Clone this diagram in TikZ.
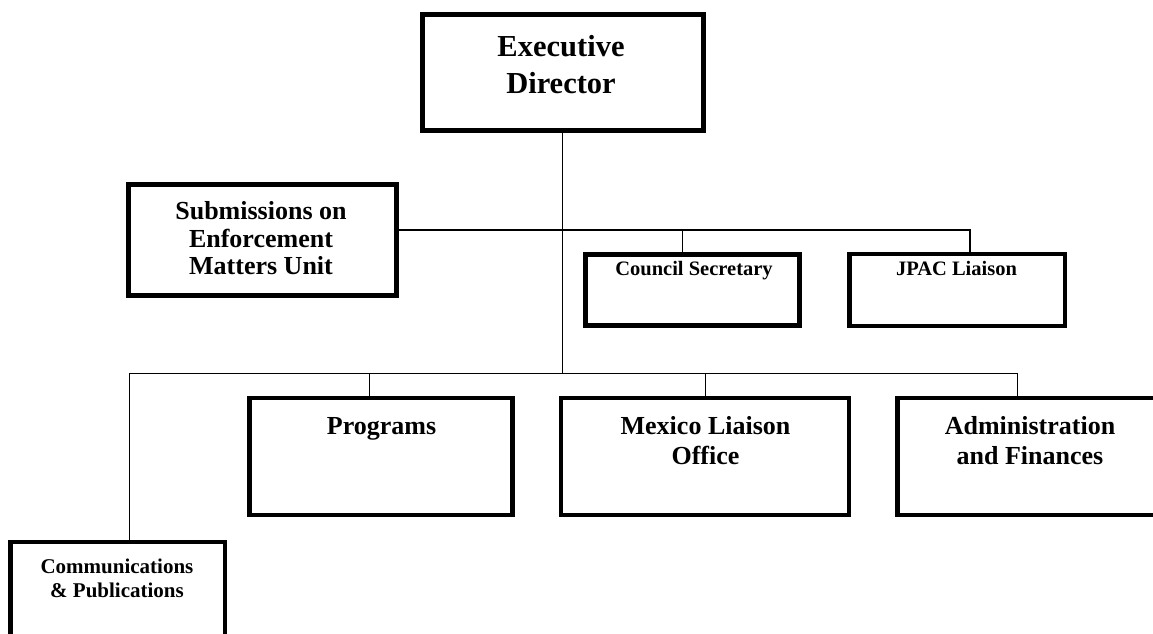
\documentclass[tikz,border=0pt]{standalone}
\usepackage{fontspec}
\setmainfont{Liberation Serif}
\begin{document}
\begin{tikzpicture}[x=1pt,y=-1pt,
  box/.style={draw, rectangle, line width=4.5pt, inner sep=0pt},
  edbox/.style={box, line width=5pt},
  link/.style={line width=1.4pt},
  lbl/.style={anchor=base, inner sep=0pt, font=\bfseries\fontsize{#1}{#1}\selectfont}]
\useasboundingbox (0,0) rectangle (1153,633);
\clip (0,0) rectangle (1153,633);

% boxes
\node[edbox, minimum width=281pt, minimum height=116pt] (ed) at (562.5,72.5) {};
\node[box, minimum width=268pt, minimum height=111pt] (sem) at (262.5,240) {};
\node[box, minimum width=214pt, minimum height=71pt] (cs) at (692.5,290) {};
\node[box, minimum width=215.5pt, minimum height=72pt] (jpac) at (957.25,290) {};
\node[box, minimum width=263pt, minimum height=117pt] (prog) at (381,456.5) {};
\node[box, minimum width=288pt, minimum height=117pt] (mex) at (705,456.5) {};
\node[box, minimum width=264.5pt, minimum height=117pt] (admin) at (1029.75,456.5) {};
\node[box, minimum width=214.5pt, minimum height=118pt] (comms) at (117.75,601) {};

% junctions
\coordinate (jCS) at (682.7,230);
\coordinate (jJP) at (970,230);
\coordinate (busL) at (129.3,373.3);
\coordinate (busR) at (1017.3,373.3);
\coordinate (jPr) at (369.3,373.3);
\coordinate (jMx) at (705.7,373.3);

% connectors
\draw[link] (ed.south) -- (ed.south |- busL);
\draw[link] (sem.east |- jJP) -- (jJP) -- (jJP |- jpac.north);
\draw[link] (jCS) -- (jCS |- cs.north);
\draw[link] (busL |- comms.north) -- (busL) -- (busR) -- (busR |- admin.north);
\draw[link] (jPr) -- (jPr |- prog.north);
\draw[link] (jMx) -- (jMx |- mex.north);

% labels
\node[lbl=30.5] (edA) at (561,56) {Executive};
\node[lbl=30.5] (edB) at (561,93) {Director};
\node[lbl=26] (semA) at (261,219.5) {Submissions on};
\node[lbl=26] (semB) at (261,247) {Enforcement};
\node[lbl=26] (semC) at (261,274.5) {Matters Unit};
\node[lbl=20.5] (csA) at (694,275) {Council Secretary};
\node[lbl=20.5] (jpA) at (956.5,275) {JPAC Liaison};
\node[lbl=26] (prA) at (381.5,434) {Programs};
\node[lbl=26] (mxA) at (705.5,434) {Mexico Liaison};
\node[lbl=26] (mxB) at (705.5,464) {Office};
\node[lbl=26] (adA) at (1030,434) {Administration};
\node[lbl=26] (adB) at (1030,464) {and Finances};
\node[lbl=21] (coA) at (117,573) {Communications};
\node[lbl=21] (coB) at (117,597) {\& Publications};
\end{tikzpicture}
\end{document}
